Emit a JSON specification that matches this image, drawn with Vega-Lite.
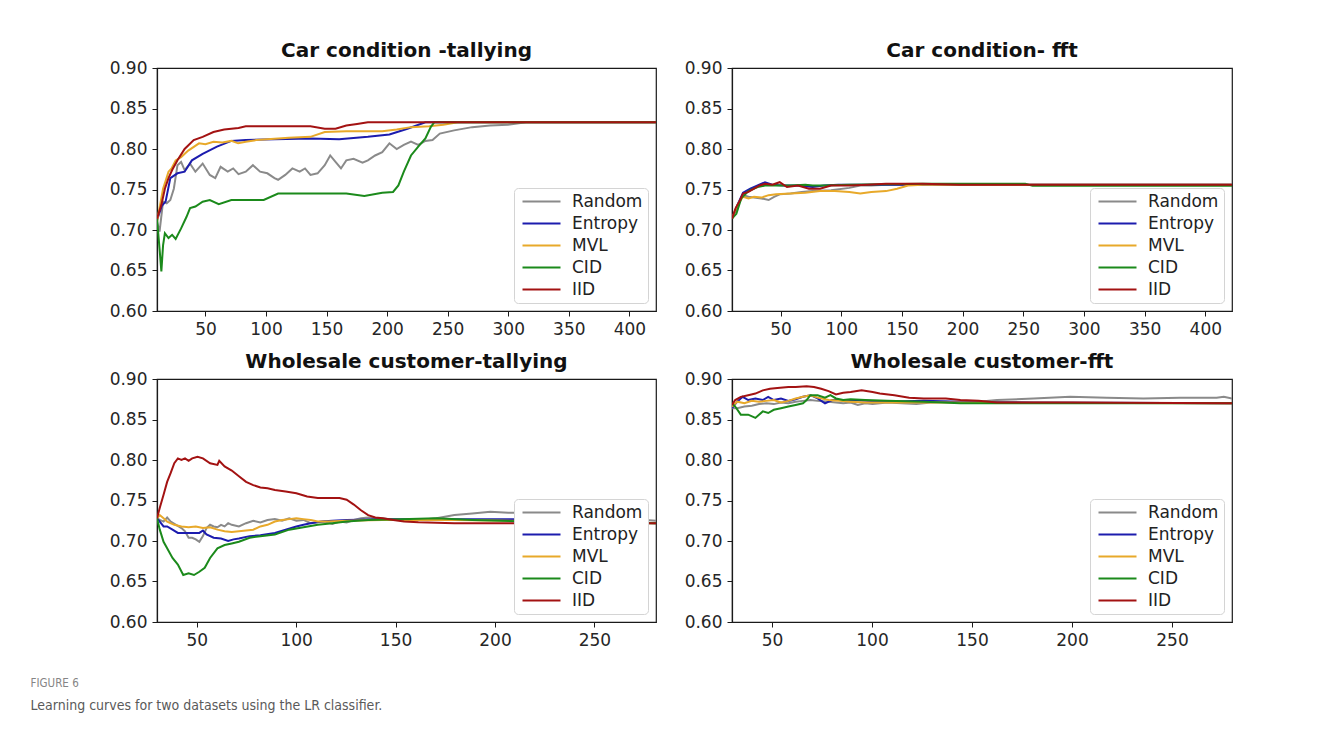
{
  "$schema": "https://vega.github.io/schema/vega-lite/v6.json",
  "background": "white",
  "padding": {"left": 30, "top": 40, "right": 10, "bottom": 10},
  "title": {
    "text": "FIGURE 6",
    "subtitle": "Learning curves for two datasets using the LR classifier.",
    "orient": "bottom",
    "anchor": "start",
    "frame": "bounds",
    "dx": -78,
    "offset": 29,
    "font": "Liberation Sans Narrow, DejaVu Sans Condensed, sans-serif",
    "fontSize": 11.5,
    "fontWeight": "normal",
    "color": "#858585",
    "subtitleFont": "Liberation Sans Narrow, DejaVu Sans Condensed, sans-serif",
    "subtitleFontSize": 14,
    "subtitleColor": "#5a5a5a",
    "subtitlePadding": 10
  },
  "data": {"values": [
    {"p":"a","m":"Random","x":10,"y":0.710},{"p":"a","m":"Random","x":12.1,"y":0.698},{"p":"a","m":"Random","x":15,"y":0.735},{"p":"a","m":"Random","x":18,"y":0.733},{"p":"a","m":"Random","x":21,"y":0.737},{"p":"a","m":"Random","x":23.9,"y":0.751},{"p":"a","m":"Random","x":26.9,"y":0.780},{"p":"a","m":"Random","x":29.9,"y":0.784},{"p":"a","m":"Random","x":32.8,"y":0.774},{"p":"a","m":"Random","x":37.3,"y":0.782},{"p":"a","m":"Random","x":41.7,"y":0.772},{"p":"a","m":"Random","x":47.7,"y":0.782},{"p":"a","m":"Random","x":53.6,"y":0.768},{"p":"a","m":"Random","x":58.1,"y":0.764},{"p":"a","m":"Random","x":62.5,"y":0.778},{"p":"a","m":"Random","x":68.4,"y":0.772},{"p":"a","m":"Random","x":72.9,"y":0.776},{"p":"a","m":"Random","x":77.3,"y":0.769},{"p":"a","m":"Random","x":83.3,"y":0.772},{"p":"a","m":"Random","x":89.2,"y":0.780},{"p":"a","m":"Random","x":95.1,"y":0.772},{"p":"a","m":"Random","x":101.1,"y":0.770},{"p":"a","m":"Random","x":107,"y":0.764},{"p":"a","m":"Random","x":110,"y":0.762},{"p":"a","m":"Random","x":115.9,"y":0.768},{"p":"a","m":"Random","x":121.8,"y":0.776},{"p":"a","m":"Random","x":127.8,"y":0.772},{"p":"a","m":"Random","x":132.2,"y":0.776},{"p":"a","m":"Random","x":136.7,"y":0.768},{"p":"a","m":"Random","x":142.6,"y":0.770},{"p":"a","m":"Random","x":148.5,"y":0.780},{"p":"a","m":"Random","x":153,"y":0.792},{"p":"a","m":"Random","x":157.4,"y":0.784},{"p":"a","m":"Random","x":161.9,"y":0.776},{"p":"a","m":"Random","x":166.3,"y":0.786},{"p":"a","m":"Random","x":172.3,"y":0.788},{"p":"a","m":"Random","x":179.7,"y":0.783},{"p":"a","m":"Random","x":184.1,"y":0.786},{"p":"a","m":"Random","x":190.1,"y":0.792},{"p":"a","m":"Random","x":196,"y":0.796},{"p":"a","m":"Random","x":201.9,"y":0.807},{"p":"a","m":"Random","x":207.9,"y":0.800},{"p":"a","m":"Random","x":213.8,"y":0.805},{"p":"a","m":"Random","x":219.7,"y":0.809},{"p":"a","m":"Random","x":225.7,"y":0.805},{"p":"a","m":"Random","x":231.6,"y":0.810},{"p":"a","m":"Random","x":237.5,"y":0.811},{"p":"a","m":"Random","x":243.5,"y":0.819},{"p":"a","m":"Random","x":255.3,"y":0.823},{"p":"a","m":"Random","x":270.2,"y":0.827},{"p":"a","m":"Random","x":285,"y":0.829},{"p":"a","m":"Random","x":299.8,"y":0.830},{"p":"a","m":"Random","x":314.7,"y":0.833},{"p":"a","m":"Random","x":422,"y":0.833},
    {"p":"a","m":"Entropy","x":10,"y":0.712},{"p":"a","m":"Entropy","x":14,"y":0.730},{"p":"a","m":"Entropy","x":17.1,"y":0.735},{"p":"a","m":"Entropy","x":21,"y":0.764},{"p":"a","m":"Entropy","x":26.9,"y":0.770},{"p":"a","m":"Entropy","x":32.8,"y":0.772},{"p":"a","m":"Entropy","x":38.8,"y":0.786},{"p":"a","m":"Entropy","x":47.7,"y":0.794},{"p":"a","m":"Entropy","x":59.5,"y":0.803},{"p":"a","m":"Entropy","x":71.4,"y":0.810},{"p":"a","m":"Entropy","x":83.3,"y":0.811},{"p":"a","m":"Entropy","x":107,"y":0.812},{"p":"a","m":"Entropy","x":136.7,"y":0.813},{"p":"a","m":"Entropy","x":160.4,"y":0.812},{"p":"a","m":"Entropy","x":184.1,"y":0.815},{"p":"a","m":"Entropy","x":201.9,"y":0.818},{"p":"a","m":"Entropy","x":216.8,"y":0.825},{"p":"a","m":"Entropy","x":231.6,"y":0.833},{"p":"a","m":"Entropy","x":422,"y":0.833},
    {"p":"a","m":"MVL","x":10,"y":0.710},{"p":"a","m":"MVL","x":15,"y":0.751},{"p":"a","m":"MVL","x":17,"y":0.760},{"p":"a","m":"MVL","x":19.5,"y":0.772},{"p":"a","m":"MVL","x":22,"y":0.776},{"p":"a","m":"MVL","x":25.4,"y":0.786},{"p":"a","m":"MVL","x":29.9,"y":0.790},{"p":"a","m":"MVL","x":35.8,"y":0.798},{"p":"a","m":"MVL","x":44.7,"y":0.807},{"p":"a","m":"MVL","x":50,"y":0.806},{"p":"a","m":"MVL","x":56.6,"y":0.809},{"p":"a","m":"MVL","x":64,"y":0.808},{"p":"a","m":"MVL","x":71.4,"y":0.810},{"p":"a","m":"MVL","x":77,"y":0.807},{"p":"a","m":"MVL","x":83.3,"y":0.809},{"p":"a","m":"MVL","x":92,"y":0.811},{"p":"a","m":"MVL","x":101,"y":0.812},{"p":"a","m":"MVL","x":110,"y":0.813},{"p":"a","m":"MVL","x":118.9,"y":0.814},{"p":"a","m":"MVL","x":136.7,"y":0.815},{"p":"a","m":"MVL","x":148.5,"y":0.821},{"p":"a","m":"MVL","x":166.3,"y":0.822},{"p":"a","m":"MVL","x":196,"y":0.822},{"p":"a","m":"MVL","x":207.9,"y":0.824},{"p":"a","m":"MVL","x":219.7,"y":0.827},{"p":"a","m":"MVL","x":234.6,"y":0.828},{"p":"a","m":"MVL","x":246.4,"y":0.830},{"p":"a","m":"MVL","x":258.3,"y":0.833},{"p":"a","m":"MVL","x":422,"y":0.833},
    {"p":"a","m":"CID","x":10,"y":0.714},{"p":"a","m":"CID","x":12.1,"y":0.677},{"p":"a","m":"CID","x":13.6,"y":0.649},{"p":"a","m":"CID","x":15,"y":0.681},{"p":"a","m":"CID","x":16.5,"y":0.696},{"p":"a","m":"CID","x":19.5,"y":0.690},{"p":"a","m":"CID","x":22.5,"y":0.694},{"p":"a","m":"CID","x":25.4,"y":0.689},{"p":"a","m":"CID","x":29.9,"y":0.702},{"p":"a","m":"CID","x":34.3,"y":0.716},{"p":"a","m":"CID","x":37.3,"y":0.727},{"p":"a","m":"CID","x":41.7,"y":0.729},{"p":"a","m":"CID","x":47.7,"y":0.735},{"p":"a","m":"CID","x":53.6,"y":0.737},{"p":"a","m":"CID","x":61,"y":0.732},{"p":"a","m":"CID","x":71.4,"y":0.737},{"p":"a","m":"CID","x":98.1,"y":0.737},{"p":"a","m":"CID","x":110,"y":0.745},{"p":"a","m":"CID","x":166.3,"y":0.745},{"p":"a","m":"CID","x":181.2,"y":0.742},{"p":"a","m":"CID","x":196,"y":0.746},{"p":"a","m":"CID","x":204.9,"y":0.747},{"p":"a","m":"CID","x":209.3,"y":0.755},{"p":"a","m":"CID","x":213.8,"y":0.772},{"p":"a","m":"CID","x":219.7,"y":0.792},{"p":"a","m":"CID","x":225.7,"y":0.803},{"p":"a","m":"CID","x":231.6,"y":0.813},{"p":"a","m":"CID","x":236,"y":0.827},{"p":"a","m":"CID","x":239,"y":0.833},{"p":"a","m":"CID","x":422,"y":0.833},
    {"p":"a","m":"IID","x":10,"y":0.714},{"p":"a","m":"IID","x":13.6,"y":0.731},{"p":"a","m":"IID","x":16.5,"y":0.751},{"p":"a","m":"IID","x":19.5,"y":0.764},{"p":"a","m":"IID","x":22.5,"y":0.774},{"p":"a","m":"IID","x":26.9,"y":0.786},{"p":"a","m":"IID","x":32.8,"y":0.800},{"p":"a","m":"IID","x":40.3,"y":0.811},{"p":"a","m":"IID","x":47.7,"y":0.815},{"p":"a","m":"IID","x":56.6,"y":0.821},{"p":"a","m":"IID","x":65.5,"y":0.824},{"p":"a","m":"IID","x":77.3,"y":0.826},{"p":"a","m":"IID","x":83.3,"y":0.828},{"p":"a","m":"IID","x":107,"y":0.828},{"p":"a","m":"IID","x":136.7,"y":0.828},{"p":"a","m":"IID","x":148.5,"y":0.825},{"p":"a","m":"IID","x":157.4,"y":0.825},{"p":"a","m":"IID","x":166.3,"y":0.829},{"p":"a","m":"IID","x":175.2,"y":0.831},{"p":"a","m":"IID","x":184.1,"y":0.833},{"p":"a","m":"IID","x":422,"y":0.833},

    {"p":"b","m":"Random","x":10,"y":0.714},{"p":"b","m":"Random","x":14.5,"y":0.729},{"p":"b","m":"Random","x":19.1,"y":0.743},{"p":"b","m":"Random","x":23.6,"y":0.741},{"p":"b","m":"Random","x":28.1,"y":0.740},{"p":"b","m":"Random","x":34.2,"y":0.739},{"p":"b","m":"Random","x":40.2,"y":0.737},{"p":"b","m":"Random","x":44.7,"y":0.741},{"p":"b","m":"Random","x":49.3,"y":0.744},{"p":"b","m":"Random","x":58.3,"y":0.745},{"p":"b","m":"Random","x":67.4,"y":0.747},{"p":"b","m":"Random","x":76.5,"y":0.748},{"p":"b","m":"Random","x":91.6,"y":0.749},{"p":"b","m":"Random","x":106.7,"y":0.752},{"p":"b","m":"Random","x":115.7,"y":0.755},{"p":"b","m":"Random","x":124.8,"y":0.755},{"p":"b","m":"Random","x":136.9,"y":0.756},{"p":"b","m":"Random","x":422,"y":0.756},
    {"p":"b","m":"Entropy","x":10,"y":0.714},{"p":"b","m":"Entropy","x":14.5,"y":0.731},{"p":"b","m":"Entropy","x":19.1,"y":0.746},{"p":"b","m":"Entropy","x":25.1,"y":0.751},{"p":"b","m":"Entropy","x":31.1,"y":0.755},{"p":"b","m":"Entropy","x":37.2,"y":0.759},{"p":"b","m":"Entropy","x":43.2,"y":0.756},{"p":"b","m":"Entropy","x":52.3,"y":0.755},{"p":"b","m":"Entropy","x":64.4,"y":0.755},{"p":"b","m":"Entropy","x":76.5,"y":0.753},{"p":"b","m":"Entropy","x":85.5,"y":0.755},{"p":"b","m":"Entropy","x":97.6,"y":0.756},{"p":"b","m":"Entropy","x":121.8,"y":0.756},{"p":"b","m":"Entropy","x":422,"y":0.756},
    {"p":"b","m":"MVL","x":10,"y":0.714},{"p":"b","m":"MVL","x":14.5,"y":0.731},{"p":"b","m":"MVL","x":19.1,"y":0.741},{"p":"b","m":"MVL","x":23.6,"y":0.739},{"p":"b","m":"MVL","x":28.1,"y":0.741},{"p":"b","m":"MVL","x":34.2,"y":0.740},{"p":"b","m":"MVL","x":40.2,"y":0.743},{"p":"b","m":"MVL","x":46.3,"y":0.744},{"p":"b","m":"MVL","x":58.3,"y":0.745},{"p":"b","m":"MVL","x":70.4,"y":0.746},{"p":"b","m":"MVL","x":82.5,"y":0.748},{"p":"b","m":"MVL","x":94.6,"y":0.748},{"p":"b","m":"MVL","x":106.7,"y":0.747},{"p":"b","m":"MVL","x":115.7,"y":0.745},{"p":"b","m":"MVL","x":124.8,"y":0.747},{"p":"b","m":"MVL","x":136.9,"y":0.748},{"p":"b","m":"MVL","x":146,"y":0.751},{"p":"b","m":"MVL","x":155,"y":0.755},{"p":"b","m":"MVL","x":167.1,"y":0.756},{"p":"b","m":"MVL","x":422,"y":0.756},
    {"p":"b","m":"CID","x":10,"y":0.714},{"p":"b","m":"CID","x":13.6,"y":0.720},{"p":"b","m":"CID","x":17.6,"y":0.739},{"p":"b","m":"CID","x":23.6,"y":0.748},{"p":"b","m":"CID","x":31.1,"y":0.753},{"p":"b","m":"CID","x":37.2,"y":0.755},{"p":"b","m":"CID","x":46.3,"y":0.755},{"p":"b","m":"CID","x":58.3,"y":0.755},{"p":"b","m":"CID","x":70.4,"y":0.756},{"p":"b","m":"CID","x":76.5,"y":0.755},{"p":"b","m":"CID","x":85.5,"y":0.755},{"p":"b","m":"CID","x":106.7,"y":0.756},{"p":"b","m":"CID","x":167.1,"y":0.757},{"p":"b","m":"CID","x":251.7,"y":0.757},{"p":"b","m":"CID","x":257.7,"y":0.7545},{"p":"b","m":"CID","x":422,"y":0.7545},
    {"p":"b","m":"IID","x":10,"y":0.714},{"p":"b","m":"IID","x":13,"y":0.727},{"p":"b","m":"IID","x":16,"y":0.735},{"p":"b","m":"IID","x":19.1,"y":0.745},{"p":"b","m":"IID","x":23.6,"y":0.747},{"p":"b","m":"IID","x":28.1,"y":0.751},{"p":"b","m":"IID","x":32.7,"y":0.755},{"p":"b","m":"IID","x":37.2,"y":0.757},{"p":"b","m":"IID","x":43.2,"y":0.756},{"p":"b","m":"IID","x":49.3,"y":0.759},{"p":"b","m":"IID","x":55.3,"y":0.753},{"p":"b","m":"IID","x":64.4,"y":0.755},{"p":"b","m":"IID","x":73.4,"y":0.751},{"p":"b","m":"IID","x":82.5,"y":0.751},{"p":"b","m":"IID","x":91.6,"y":0.755},{"p":"b","m":"IID","x":106.7,"y":0.755},{"p":"b","m":"IID","x":121.8,"y":0.756},{"p":"b","m":"IID","x":136.9,"y":0.757},{"p":"b","m":"IID","x":167.1,"y":0.757},{"p":"b","m":"IID","x":197.3,"y":0.756},{"p":"b","m":"IID","x":422,"y":0.756},

    {"p":"c","m":"Random","x":30,"y":0.728},{"p":"c","m":"Random","x":31.4,"y":0.726},{"p":"c","m":"Random","x":33.3,"y":0.724},{"p":"c","m":"Random","x":35.1,"y":0.729},{"p":"c","m":"Random","x":36.9,"y":0.724},{"p":"c","m":"Random","x":39.6,"y":0.720},{"p":"c","m":"Random","x":42.3,"y":0.716},{"p":"c","m":"Random","x":44.1,"y":0.712},{"p":"c","m":"Random","x":45.9,"y":0.704},{"p":"c","m":"Random","x":47.7,"y":0.704},{"p":"c","m":"Random","x":49.5,"y":0.702},{"p":"c","m":"Random","x":51.3,"y":0.699},{"p":"c","m":"Random","x":53.1,"y":0.706},{"p":"c","m":"Random","x":54.9,"y":0.716},{"p":"c","m":"Random","x":56.7,"y":0.720},{"p":"c","m":"Random","x":58.5,"y":0.718},{"p":"c","m":"Random","x":60.4,"y":0.717},{"p":"c","m":"Random","x":62.2,"y":0.720},{"p":"c","m":"Random","x":64,"y":0.718},{"p":"c","m":"Random","x":65.8,"y":0.722},{"p":"c","m":"Random","x":67.6,"y":0.720},{"p":"c","m":"Random","x":71.2,"y":0.718},{"p":"c","m":"Random","x":74.8,"y":0.722},{"p":"c","m":"Random","x":78.4,"y":0.725},{"p":"c","m":"Random","x":82,"y":0.723},{"p":"c","m":"Random","x":85.6,"y":0.726},{"p":"c","m":"Random","x":89.3,"y":0.727},{"p":"c","m":"Random","x":92.9,"y":0.725},{"p":"c","m":"Random","x":96.5,"y":0.728},{"p":"c","m":"Random","x":100.1,"y":0.725},{"p":"c","m":"Random","x":103.7,"y":0.726},{"p":"c","m":"Random","x":107.3,"y":0.722},{"p":"c","m":"Random","x":110.9,"y":0.723},{"p":"c","m":"Random","x":114.6,"y":0.724},{"p":"c","m":"Random","x":118.2,"y":0.721},{"p":"c","m":"Random","x":121.8,"y":0.724},{"p":"c","m":"Random","x":125.4,"y":0.723},{"p":"c","m":"Random","x":129,"y":0.726},{"p":"c","m":"Random","x":132.6,"y":0.728},{"p":"c","m":"Random","x":136.2,"y":0.729},{"p":"c","m":"Random","x":139.8,"y":0.728},{"p":"c","m":"Random","x":143.5,"y":0.728},{"p":"c","m":"Random","x":147.1,"y":0.727},{"p":"c","m":"Random","x":152.5,"y":0.726},{"p":"c","m":"Random","x":161.5,"y":0.726},{"p":"c","m":"Random","x":170.6,"y":0.728},{"p":"c","m":"Random","x":179.6,"y":0.732},{"p":"c","m":"Random","x":188.6,"y":0.734},{"p":"c","m":"Random","x":197.7,"y":0.736},{"p":"c","m":"Random","x":206.7,"y":0.735},{"p":"c","m":"Random","x":215.7,"y":0.735},{"p":"c","m":"Random","x":224.8,"y":0.735},{"p":"c","m":"Random","x":281,"y":0.725},
    {"p":"c","m":"Entropy","x":30,"y":0.728},{"p":"c","m":"Entropy","x":31.4,"y":0.724},{"p":"c","m":"Entropy","x":33.3,"y":0.718},{"p":"c","m":"Entropy","x":35.1,"y":0.718},{"p":"c","m":"Entropy","x":37.8,"y":0.714},{"p":"c","m":"Entropy","x":40.5,"y":0.710},{"p":"c","m":"Entropy","x":44.1,"y":0.710},{"p":"c","m":"Entropy","x":47.7,"y":0.710},{"p":"c","m":"Entropy","x":51.3,"y":0.710},{"p":"c","m":"Entropy","x":53.1,"y":0.713},{"p":"c","m":"Entropy","x":54.9,"y":0.708},{"p":"c","m":"Entropy","x":58.5,"y":0.704},{"p":"c","m":"Entropy","x":62.2,"y":0.703},{"p":"c","m":"Entropy","x":65.8,"y":0.700},{"p":"c","m":"Entropy","x":68.5,"y":0.702},{"p":"c","m":"Entropy","x":71.2,"y":0.703},{"p":"c","m":"Entropy","x":76.6,"y":0.706},{"p":"c","m":"Entropy","x":82,"y":0.707},{"p":"c","m":"Entropy","x":89.3,"y":0.710},{"p":"c","m":"Entropy","x":94.7,"y":0.714},{"p":"c","m":"Entropy","x":100.1,"y":0.718},{"p":"c","m":"Entropy","x":103.7,"y":0.720},{"p":"c","m":"Entropy","x":107.3,"y":0.722},{"p":"c","m":"Entropy","x":112.7,"y":0.724},{"p":"c","m":"Entropy","x":118.2,"y":0.725},{"p":"c","m":"Entropy","x":125.4,"y":0.726},{"p":"c","m":"Entropy","x":143.5,"y":0.727},{"p":"c","m":"Entropy","x":161.5,"y":0.727},{"p":"c","m":"Entropy","x":215.7,"y":0.727},{"p":"c","m":"Entropy","x":281,"y":0.722},
    {"p":"c","m":"MVL","x":30,"y":0.728},{"p":"c","m":"MVL","x":31.4,"y":0.732},{"p":"c","m":"MVL","x":33.3,"y":0.728},{"p":"c","m":"MVL","x":35.1,"y":0.724},{"p":"c","m":"MVL","x":38.7,"y":0.720},{"p":"c","m":"MVL","x":42.3,"y":0.718},{"p":"c","m":"MVL","x":45.9,"y":0.717},{"p":"c","m":"MVL","x":49.5,"y":0.718},{"p":"c","m":"MVL","x":53.1,"y":0.716},{"p":"c","m":"MVL","x":56.7,"y":0.717},{"p":"c","m":"MVL","x":60.4,"y":0.714},{"p":"c","m":"MVL","x":64,"y":0.712},{"p":"c","m":"MVL","x":67.6,"y":0.711},{"p":"c","m":"MVL","x":71.2,"y":0.712},{"p":"c","m":"MVL","x":74.8,"y":0.713},{"p":"c","m":"MVL","x":78.4,"y":0.714},{"p":"c","m":"MVL","x":82,"y":0.718},{"p":"c","m":"MVL","x":85.6,"y":0.720},{"p":"c","m":"MVL","x":89.3,"y":0.724},{"p":"c","m":"MVL","x":92.9,"y":0.726},{"p":"c","m":"MVL","x":96.5,"y":0.727},{"p":"c","m":"MVL","x":100.1,"y":0.728},{"p":"c","m":"MVL","x":103.7,"y":0.727},{"p":"c","m":"MVL","x":107.3,"y":0.726},{"p":"c","m":"MVL","x":110.9,"y":0.724},{"p":"c","m":"MVL","x":116.4,"y":0.724},{"p":"c","m":"MVL","x":125.4,"y":0.725},{"p":"c","m":"MVL","x":143.5,"y":0.726},{"p":"c","m":"MVL","x":161.5,"y":0.726},{"p":"c","m":"MVL","x":179.6,"y":0.726},{"p":"c","m":"MVL","x":281,"y":0.722},
    {"p":"c","m":"CID","x":30,"y":0.728},{"p":"c","m":"CID","x":31.4,"y":0.714},{"p":"c","m":"CID","x":33.3,"y":0.699},{"p":"c","m":"CID","x":35.1,"y":0.691},{"p":"c","m":"CID","x":37.8,"y":0.679},{"p":"c","m":"CID","x":40.5,"y":0.671},{"p":"c","m":"CID","x":43.2,"y":0.658},{"p":"c","m":"CID","x":45.9,"y":0.660},{"p":"c","m":"CID","x":48.6,"y":0.658},{"p":"c","m":"CID","x":51.3,"y":0.662},{"p":"c","m":"CID","x":54,"y":0.667},{"p":"c","m":"CID","x":56.7,"y":0.679},{"p":"c","m":"CID","x":60.4,"y":0.691},{"p":"c","m":"CID","x":64,"y":0.695},{"p":"c","m":"CID","x":67.6,"y":0.697},{"p":"c","m":"CID","x":71.2,"y":0.699},{"p":"c","m":"CID","x":76.6,"y":0.704},{"p":"c","m":"CID","x":82,"y":0.706},{"p":"c","m":"CID","x":89.3,"y":0.708},{"p":"c","m":"CID","x":96.5,"y":0.714},{"p":"c","m":"CID","x":103.7,"y":0.717},{"p":"c","m":"CID","x":110.9,"y":0.720},{"p":"c","m":"CID","x":118.2,"y":0.722},{"p":"c","m":"CID","x":125.4,"y":0.724},{"p":"c","m":"CID","x":136.2,"y":0.726},{"p":"c","m":"CID","x":152.5,"y":0.727},{"p":"c","m":"CID","x":170.6,"y":0.728},{"p":"c","m":"CID","x":188.6,"y":0.726},{"p":"c","m":"CID","x":215.7,"y":0.724},{"p":"c","m":"CID","x":281,"y":0.722},
    {"p":"c","m":"IID","x":30,"y":0.728},{"p":"c","m":"IID","x":31.4,"y":0.741},{"p":"c","m":"IID","x":33.3,"y":0.757},{"p":"c","m":"IID","x":35.1,"y":0.773},{"p":"c","m":"IID","x":36.9,"y":0.784},{"p":"c","m":"IID","x":38.7,"y":0.796},{"p":"c","m":"IID","x":40.5,"y":0.802},{"p":"c","m":"IID","x":42.3,"y":0.800},{"p":"c","m":"IID","x":44.1,"y":0.802},{"p":"c","m":"IID","x":45.9,"y":0.799},{"p":"c","m":"IID","x":47.7,"y":0.802},{"p":"c","m":"IID","x":50.4,"y":0.804},{"p":"c","m":"IID","x":53.1,"y":0.802},{"p":"c","m":"IID","x":56.7,"y":0.796},{"p":"c","m":"IID","x":60.4,"y":0.794},{"p":"c","m":"IID","x":61.3,"y":0.799},{"p":"c","m":"IID","x":64,"y":0.792},{"p":"c","m":"IID","x":67.6,"y":0.787},{"p":"c","m":"IID","x":71.2,"y":0.780},{"p":"c","m":"IID","x":74.8,"y":0.773},{"p":"c","m":"IID","x":78.4,"y":0.769},{"p":"c","m":"IID","x":82,"y":0.766},{"p":"c","m":"IID","x":85.6,"y":0.765},{"p":"c","m":"IID","x":89.3,"y":0.763},{"p":"c","m":"IID","x":94.7,"y":0.761},{"p":"c","m":"IID","x":100.1,"y":0.759},{"p":"c","m":"IID","x":105.5,"y":0.755},{"p":"c","m":"IID","x":110.9,"y":0.753},{"p":"c","m":"IID","x":116.4,"y":0.753},{"p":"c","m":"IID","x":121.8,"y":0.753},{"p":"c","m":"IID","x":125.4,"y":0.751},{"p":"c","m":"IID","x":129,"y":0.745},{"p":"c","m":"IID","x":132.6,"y":0.738},{"p":"c","m":"IID","x":136.2,"y":0.732},{"p":"c","m":"IID","x":139.8,"y":0.729},{"p":"c","m":"IID","x":143.5,"y":0.728},{"p":"c","m":"IID","x":148.9,"y":0.726},{"p":"c","m":"IID","x":154.3,"y":0.724},{"p":"c","m":"IID","x":161.5,"y":0.723},{"p":"c","m":"IID","x":179.6,"y":0.722},{"p":"c","m":"IID","x":281,"y":0.722},

    {"p":"d","m":"Random","x":30,"y":0.864},{"p":"d","m":"Random","x":32.6,"y":0.864},{"p":"d","m":"Random","x":36.2,"y":0.866},{"p":"d","m":"Random","x":39.9,"y":0.867},{"p":"d","m":"Random","x":43.5,"y":0.869},{"p":"d","m":"Random","x":47.2,"y":0.870},{"p":"d","m":"Random","x":50.9,"y":0.869},{"p":"d","m":"Random","x":54.5,"y":0.871},{"p":"d","m":"Random","x":58.2,"y":0.870},{"p":"d","m":"Random","x":61.8,"y":0.872},{"p":"d","m":"Random","x":65.5,"y":0.873},{"p":"d","m":"Random","x":69.2,"y":0.874},{"p":"d","m":"Random","x":72.8,"y":0.873},{"p":"d","m":"Random","x":78.3,"y":0.872},{"p":"d","m":"Random","x":82,"y":0.871},{"p":"d","m":"Random","x":85.6,"y":0.870},{"p":"d","m":"Random","x":89.3,"y":0.871},{"p":"d","m":"Random","x":92.9,"y":0.868},{"p":"d","m":"Random","x":96.6,"y":0.870},{"p":"d","m":"Random","x":100.3,"y":0.869},{"p":"d","m":"Random","x":103.9,"y":0.870},{"p":"d","m":"Random","x":107.6,"y":0.871},{"p":"d","m":"Random","x":114.9,"y":0.870},{"p":"d","m":"Random","x":122.2,"y":0.869},{"p":"d","m":"Random","x":129.5,"y":0.871},{"p":"d","m":"Random","x":136.9,"y":0.872},{"p":"d","m":"Random","x":144.2,"y":0.871},{"p":"d","m":"Random","x":153.3,"y":0.872},{"p":"d","m":"Random","x":162.5,"y":0.874},{"p":"d","m":"Random","x":180.8,"y":0.876},{"p":"d","m":"Random","x":199.1,"y":0.878},{"p":"d","m":"Random","x":217.4,"y":0.877},{"p":"d","m":"Random","x":235.7,"y":0.876},{"p":"d","m":"Random","x":254,"y":0.877},{"p":"d","m":"Random","x":272.3,"y":0.877},{"p":"d","m":"Random","x":275.9,"y":0.878},{"p":"d","m":"Random","x":280,"y":0.876},
    {"p":"d","m":"Entropy","x":30,"y":0.864},{"p":"d","m":"Entropy","x":32.6,"y":0.872},{"p":"d","m":"Entropy","x":35.3,"y":0.878},{"p":"d","m":"Entropy","x":38.1,"y":0.874},{"p":"d","m":"Entropy","x":41.7,"y":0.876},{"p":"d","m":"Entropy","x":45.4,"y":0.874},{"p":"d","m":"Entropy","x":48.1,"y":0.878},{"p":"d","m":"Entropy","x":50.9,"y":0.874},{"p":"d","m":"Entropy","x":54.5,"y":0.876},{"p":"d","m":"Entropy","x":58.2,"y":0.873},{"p":"d","m":"Entropy","x":61.8,"y":0.875},{"p":"d","m":"Entropy","x":65.5,"y":0.878},{"p":"d","m":"Entropy","x":69.2,"y":0.880},{"p":"d","m":"Entropy","x":72.8,"y":0.876},{"p":"d","m":"Entropy","x":76.5,"y":0.870},{"p":"d","m":"Entropy","x":80.1,"y":0.874},{"p":"d","m":"Entropy","x":89.3,"y":0.874},{"p":"d","m":"Entropy","x":107.6,"y":0.872},{"p":"d","m":"Entropy","x":125.9,"y":0.873},{"p":"d","m":"Entropy","x":144.2,"y":0.872},{"p":"d","m":"Entropy","x":180.8,"y":0.871},{"p":"d","m":"Entropy","x":280,"y":0.870},
    {"p":"d","m":"MVL","x":30,"y":0.866},{"p":"d","m":"MVL","x":32.6,"y":0.872},{"p":"d","m":"MVL","x":36.2,"y":0.870},{"p":"d","m":"MVL","x":39.9,"y":0.873},{"p":"d","m":"MVL","x":43.5,"y":0.872},{"p":"d","m":"MVL","x":47.2,"y":0.873},{"p":"d","m":"MVL","x":50.9,"y":0.874},{"p":"d","m":"MVL","x":54.5,"y":0.871},{"p":"d","m":"MVL","x":58.2,"y":0.873},{"p":"d","m":"MVL","x":61.8,"y":0.876},{"p":"d","m":"MVL","x":65.5,"y":0.878},{"p":"d","m":"MVL","x":69.2,"y":0.880},{"p":"d","m":"MVL","x":72.8,"y":0.877},{"p":"d","m":"MVL","x":78.3,"y":0.874},{"p":"d","m":"MVL","x":83.8,"y":0.873},{"p":"d","m":"MVL","x":89.3,"y":0.872},{"p":"d","m":"MVL","x":96.6,"y":0.871},{"p":"d","m":"MVL","x":107.6,"y":0.871},{"p":"d","m":"MVL","x":144.2,"y":0.871},{"p":"d","m":"MVL","x":280,"y":0.870},
    {"p":"d","m":"CID","x":30,"y":0.870},{"p":"d","m":"CID","x":31.6,"y":0.866},{"p":"d","m":"CID","x":34.4,"y":0.856},{"p":"d","m":"CID","x":38.1,"y":0.856},{"p":"d","m":"CID","x":41.7,"y":0.852},{"p":"d","m":"CID","x":43.5,"y":0.856},{"p":"d","m":"CID","x":45.4,"y":0.860},{"p":"d","m":"CID","x":48.1,"y":0.858},{"p":"d","m":"CID","x":50.9,"y":0.862},{"p":"d","m":"CID","x":54.5,"y":0.864},{"p":"d","m":"CID","x":58.2,"y":0.866},{"p":"d","m":"CID","x":61.8,"y":0.868},{"p":"d","m":"CID","x":65.5,"y":0.870},{"p":"d","m":"CID","x":67.3,"y":0.874},{"p":"d","m":"CID","x":69.2,"y":0.880},{"p":"d","m":"CID","x":72.8,"y":0.880},{"p":"d","m":"CID","x":76.5,"y":0.877},{"p":"d","m":"CID","x":79.2,"y":0.880},{"p":"d","m":"CID","x":82,"y":0.876},{"p":"d","m":"CID","x":85.6,"y":0.874},{"p":"d","m":"CID","x":89.3,"y":0.875},{"p":"d","m":"CID","x":96.6,"y":0.874},{"p":"d","m":"CID","x":107.6,"y":0.873},{"p":"d","m":"CID","x":125.9,"y":0.872},{"p":"d","m":"CID","x":144.2,"y":0.870},{"p":"d","m":"CID","x":162.5,"y":0.870},{"p":"d","m":"CID","x":280,"y":0.870},
    {"p":"d","m":"IID","x":30,"y":0.868},{"p":"d","m":"IID","x":31.6,"y":0.874},{"p":"d","m":"IID","x":34.4,"y":0.878},{"p":"d","m":"IID","x":38.1,"y":0.880},{"p":"d","m":"IID","x":41.7,"y":0.882},{"p":"d","m":"IID","x":45.4,"y":0.886},{"p":"d","m":"IID","x":49,"y":0.888},{"p":"d","m":"IID","x":52.7,"y":0.889},{"p":"d","m":"IID","x":58.2,"y":0.890},{"p":"d","m":"IID","x":61.8,"y":0.890},{"p":"d","m":"IID","x":67.3,"y":0.891},{"p":"d","m":"IID","x":71,"y":0.890},{"p":"d","m":"IID","x":74.6,"y":0.888},{"p":"d","m":"IID","x":78.3,"y":0.885},{"p":"d","m":"IID","x":82,"y":0.881},{"p":"d","m":"IID","x":85.6,"y":0.883},{"p":"d","m":"IID","x":89.3,"y":0.884},{"p":"d","m":"IID","x":94.8,"y":0.886},{"p":"d","m":"IID","x":100.3,"y":0.884},{"p":"d","m":"IID","x":103.9,"y":0.882},{"p":"d","m":"IID","x":111.2,"y":0.880},{"p":"d","m":"IID","x":118.6,"y":0.877},{"p":"d","m":"IID","x":125.9,"y":0.876},{"p":"d","m":"IID","x":136.9,"y":0.876},{"p":"d","m":"IID","x":144.2,"y":0.874},{"p":"d","m":"IID","x":153.3,"y":0.873},{"p":"d","m":"IID","x":162.5,"y":0.871},{"p":"d","m":"IID","x":180.8,"y":0.871},{"p":"d","m":"IID","x":199.1,"y":0.871},{"p":"d","m":"IID","x":280,"y":0.870}
  ]},
  "columns": 2,
  "spacing": {"row": 13, "column": 26},
  "concat": [
    {
      "title": "Car condition -tallying",
      "width": 499, "height": 243,
      "transform": [{"filter": "datum.p == 'a'"}],
      "mark": {"type": "line", "strokeWidth": 2, "clip": true},
      "encoding": {
        "x": {"field": "x", "type": "quantitative", "title": null, "scale": {"domain": [10, 422], "nice": false, "zero": false}, "axis": {"values": [50, 100, 150, 200, 250, 300, 350, 400]}},
        "y": {"field": "y", "type": "quantitative", "title": null, "scale": {"domain": [0.6, 0.9], "nice": false, "zero": false}, "axis": {"values": [0.6, 0.65, 0.7, 0.75, 0.8, 0.85, 0.9], "format": ".2f"}},
        "color": {"field": "m", "type": "nominal", "scale": {"domain": ["Random", "Entropy", "MVL", "CID", "IID"], "range": ["#8a8a8a", "#1c1cae", "#e8a92a", "#1b8a1b", "#a31212"]}, "legend": {"title": null, "symbolType": "M-3.8,0H3.8", "symbolSize": 100, "symbolStrokeWidth": 2, "symbolOffset": 14, "labelOffset": 22, "labelExpr": "datum.label + ' '"}}
      }
    },
    {
      "title": "Car condition- fft",
      "width": 500, "height": 243,
      "transform": [{"filter": "datum.p == 'b'"}],
      "mark": {"type": "line", "strokeWidth": 2, "clip": true},
      "encoding": {
        "x": {"field": "x", "type": "quantitative", "title": null, "scale": {"domain": [10, 422], "nice": false, "zero": false}, "axis": {"values": [50, 100, 150, 200, 250, 300, 350, 400]}},
        "y": {"field": "y", "type": "quantitative", "title": null, "scale": {"domain": [0.6, 0.9], "nice": false, "zero": false}, "axis": {"values": [0.6, 0.65, 0.7, 0.75, 0.8, 0.85, 0.9], "format": ".2f"}},
        "color": {"field": "m", "type": "nominal", "scale": {"domain": ["Random", "Entropy", "MVL", "CID", "IID"], "range": ["#8a8a8a", "#1c1cae", "#e8a92a", "#1b8a1b", "#a31212"]}, "legend": {"title": null, "symbolType": "M-3.8,0H3.8", "symbolSize": 100, "symbolStrokeWidth": 2, "symbolOffset": 14, "labelOffset": 22, "labelExpr": "datum.label + ' '"}}
      }
    },
    {
      "title": "Wholesale customer-tallying",
      "width": 499, "height": 243,
      "transform": [{"filter": "datum.p == 'c'"}],
      "mark": {"type": "line", "strokeWidth": 2, "clip": true},
      "encoding": {
        "x": {"field": "x", "type": "quantitative", "title": null, "scale": {"domain": [30, 281], "nice": false, "zero": false}, "axis": {"values": [50, 100, 150, 200, 250]}},
        "y": {"field": "y", "type": "quantitative", "title": null, "scale": {"domain": [0.6, 0.9], "nice": false, "zero": false}, "axis": {"values": [0.6, 0.65, 0.7, 0.75, 0.8, 0.85, 0.9], "format": ".2f"}},
        "color": {"field": "m", "type": "nominal", "scale": {"domain": ["Random", "Entropy", "MVL", "CID", "IID"], "range": ["#8a8a8a", "#1c1cae", "#e8a92a", "#1b8a1b", "#a31212"]}, "legend": {"title": null, "symbolType": "M-3.8,0H3.8", "symbolSize": 100, "symbolStrokeWidth": 2, "symbolOffset": 14, "labelOffset": 22, "labelExpr": "datum.label + ' '"}}
      }
    },
    {
      "title": "Wholesale customer-fft",
      "width": 500, "height": 243,
      "transform": [{"filter": "datum.p == 'd'"}],
      "mark": {"type": "line", "strokeWidth": 2, "clip": true},
      "encoding": {
        "x": {"field": "x", "type": "quantitative", "title": null, "scale": {"domain": [30, 280], "nice": false, "zero": false}, "axis": {"values": [50, 100, 150, 200, 250]}},
        "y": {"field": "y", "type": "quantitative", "title": null, "scale": {"domain": [0.6, 0.9], "nice": false, "zero": false}, "axis": {"values": [0.6, 0.65, 0.7, 0.75, 0.8, 0.85, 0.9], "format": ".2f"}},
        "color": {"field": "m", "type": "nominal", "scale": {"domain": ["Random", "Entropy", "MVL", "CID", "IID"], "range": ["#8a8a8a", "#1c1cae", "#e8a92a", "#1b8a1b", "#a31212"]}, "legend": {"title": null, "symbolType": "M-3.8,0H3.8", "symbolSize": 100, "symbolStrokeWidth": 2, "symbolOffset": 14, "labelOffset": 22, "labelExpr": "datum.label + ' '"}}
      }
    }
  ],
  "resolve": {"scale": {"color": "independent", "x": "independent", "y": "independent"}, "legend": {"color": "independent"}},
  "config": {
    "font": "DejaVu Sans",
    "view": {"stroke": "#1a1a1a", "strokeWidth": 1.2},
    "axis": {
      "grid": false,
      "domainColor": "#1a1a1a",
      "domainWidth": 1.2,
      "tickColor": "#1a1a1a",
      "tickSize": 5,
      "labelFont": "DejaVu Sans",
      "labelFontSize": 17,
      "labelColor": "#262626",
      "labelPadding": 5
    },
    "title": {"font": "DejaVu Sans", "fontSize": 20, "fontWeight": "bold", "color": "#111111", "offset": -2, "anchor": "middle"},
    "legend": {
      "orient": "bottom-right",
      "offset": 8,
      "padding": 5,
      "strokeColor": "#d4d4d4",
      "fillColor": "white",
      "cornerRadius": 4,
      "labelFont": "DejaVu Sans",
      "labelFontSize": 17,
      "labelColor": "#222222",
      "rowPadding": 4
    }
  }
}
